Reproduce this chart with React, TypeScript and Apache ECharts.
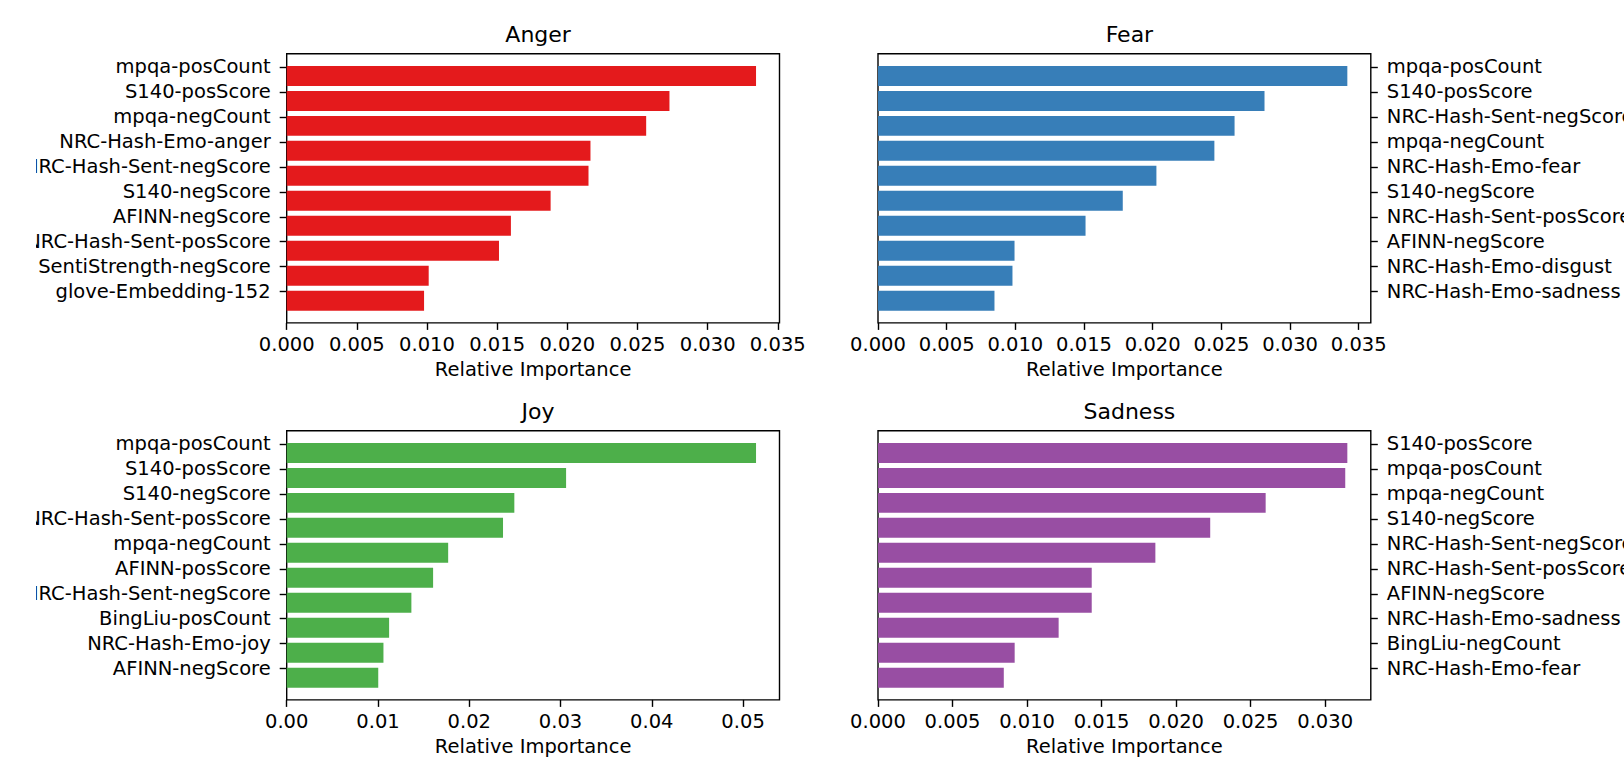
import React, { useEffect, useRef } from "react";
import * as echarts from "echarts";

const angerNames = ["mpqa-posCount", "S140-posScore", "mpqa-negCount", "NRC-Hash-Emo-anger", "NRC-Hash-Sent-negScore", "S140-negScore", "AFINN-negScore", "NRC-Hash-Sent-posScore", "SentiStrength-negScore", "glove-Embedding-152"];
const angerValues = [0.03345, 0.02728, 0.02562, 0.02165, 0.02151, 0.01881, 0.01598, 0.01513, 0.01012, 0.00979];

const fearNames = ["mpqa-posCount", "S140-posScore", "NRC-Hash-Sent-negScore", "mpqa-negCount", "NRC-Hash-Emo-fear", "S140-negScore", "NRC-Hash-Sent-posScore", "AFINN-negScore", "NRC-Hash-Emo-disgust", "NRC-Hash-Emo-sadness"];
const fearValues = [0.03417, 0.02814, 0.02596, 0.02449, 0.02027, 0.01782, 0.01511, 0.00994, 0.00979, 0.00848];

const joyNames = ["mpqa-posCount", "S140-posScore", "S140-negScore", "NRC-Hash-Sent-posScore", "mpqa-negCount", "AFINN-posScore", "NRC-Hash-Sent-negScore", "BingLiu-posCount", "NRC-Hash-Emo-joy", "AFINN-negScore"];
const joyValues = [0.05142, 0.03061, 0.02494, 0.0237, 0.01769, 0.01604, 0.01366, 0.01122, 0.0106, 0.01003];

const sadnessNames = ["S140-posScore", "mpqa-posCount", "mpqa-negCount", "S140-negScore", "NRC-Hash-Sent-negScore", "NRC-Hash-Sent-posScore", "AFINN-negScore", "NRC-Hash-Emo-sadness", "BingLiu-negCount", "NRC-Hash-Emo-fear"];
const sadnessValues = [0.03149, 0.03135, 0.02601, 0.02229, 0.01861, 0.01434, 0.01434, 0.01212, 0.00917, 0.00844];

const ticks3a = [0, 0.005, 0.01, 0.015, 0.02, 0.025, 0.03, 0.035];
const ticksJoy = [0, 0.01, 0.02, 0.03, 0.04, 0.05];
const ticksSad = [0, 0.005, 0.01, 0.015, 0.02, 0.025, 0.03];

const FONT = "DejaVu Sans";
const TICK_OFFSET = -0.36;
// the original figure's left edge (long labels are clipped there)
const CLIP_X = 36;

type Panel = {
  title: string;
  names: string[];
  values: number[];
  ticks: number[];
  decimals: number;
  color: string;
  left: number;
  top: number;
  labelSide: "left" | "right";
};

const panels: Panel[] = [
  { title: "Anger", names: angerNames, values: angerValues, ticks: ticks3a, decimals: 3, color: "#e41a1c", left: 286.7, top: 53.7, labelSide: "left" },
  { title: "Fear", names: fearNames, values: fearValues, ticks: ticks3a, decimals: 3, color: "#377eb8", left: 878, top: 53.7, labelSide: "right" },
  { title: "Joy", names: joyNames, values: joyValues, ticks: ticksJoy, decimals: 2, color: "#4daf4a", left: 286.7, top: 430.7, labelSide: "left" },
  { title: "Sadness", names: sadnessNames, values: sadnessValues, ticks: ticksSad, decimals: 3, color: "#984ea3", left: 878, top: 430.7, labelSide: "right" },
];

const GRID_W = 492.8;
const GRID_H = 269.2;

export default function App() {
  const ref = useRef<HTMLDivElement>(null);
  useEffect(() => {
    if (!ref.current) return;
    const chart = echarts.init(ref.current, null, { renderer: "svg" });
    const n = 10;
    const yMin = -0.4 - 0.05 * (n - 1 + 0.8);
    const yMax = n - 1 + 0.4 + 0.05 * (n - 1 + 0.8);
    const option: any = {
      animation: false,
      backgroundColor: "#ffffff",
      title: panels.map((p) => ({
        text: p.title,
        left: p.left - CLIP_X + GRID_W / 2,
        top: p.top - 35,
        textAlign: "center",
        textStyle: { fontFamily: FONT, fontSize: 22, fontWeight: "normal", color: "#000" },
      })),
      grid: panels.map((p) => ({
        left: p.left - CLIP_X,
        top: p.top,
        width: GRID_W,
        height: GRID_H,
        containLabel: false,
        outerBoundsMode: "none",
        show: true,
        borderColor: "#000",
        borderWidth: 1.4,
        backgroundColor: "transparent",
      })),
      xAxis: panels.map((p, i) => ({
        type: "value",
        gridIndex: i,
        min: 0,
        max: Math.max(...p.values) * 1.05,
        position: "bottom",
        name: "Relative Importance",
        nameLocation: "middle",
        nameGap: 37,
        nameTextStyle: { fontFamily: FONT, fontSize: 19.5, color: "#000" },
        axisLine: { show: false, onZero: false },
        splitLine: { show: false },
        axisTick: { show: true, inside: false, length: 7, lineStyle: { color: "#000", width: 1.4 }, customValues: p.ticks },
        axisLabel: {
          show: true,
          margin: 12,
          fontFamily: FONT,
          fontSize: 19.5,
          color: "#000",
          customValues: p.ticks,
          formatter: (v: number) => v.toFixed(p.decimals),
        },
      })),
      yAxis: panels.map((p, i) => ({
        type: "value",
        gridIndex: i,
        inverse: true,
        min: yMin,
        max: yMax,
        position: p.labelSide,
        axisLine: { show: false, onZero: false },
        splitLine: { show: false },
        axisTick: {
          show: true,
          inside: false,
          length: 7,
          lineStyle: { color: "#000", width: 1.4 },
          customValues: p.names.map((_, k) => k + TICK_OFFSET),
        },
        axisLabel: {
          show: true,
          margin: 16,
          fontFamily: FONT,
          fontSize: 19.5,
          color: "#000",
          customValues: p.names.map((_, k) => k + TICK_OFFSET),
          formatter: (v: number) => p.names[Math.round(v - TICK_OFFSET)] ?? "",
        },
      })),
      series: panels.map((p, i) => ({
        type: "custom",
        xAxisIndex: i,
        yAxisIndex: i,
        encode: { x: 0, y: 1 },
        data: p.values.map((v, k) => [v, k]),
        renderItem: (params: any, api: any) => {
          const v = api.value(0);
          const k = api.value(1);
          const a = api.coord([0, k - 0.4]);
          const b = api.coord([v, k + 0.4]);
          return {
            type: "rect",
            shape: { x: a[0], y: Math.min(a[1], b[1]), width: b[0] - a[0], height: Math.abs(b[1] - a[1]) },
            style: { fill: p.color },
          };
        },
      })),
    };
    chart.setOption(option);
    return () => chart.dispose();
  }, []);
  return (
    <div
      ref={ref}
      style={{ position: "absolute", left: CLIP_X, top: 0, width: 1624 - CLIP_X, height: 757, background: "#fff", overflow: "hidden" }}
    />
  );
}
